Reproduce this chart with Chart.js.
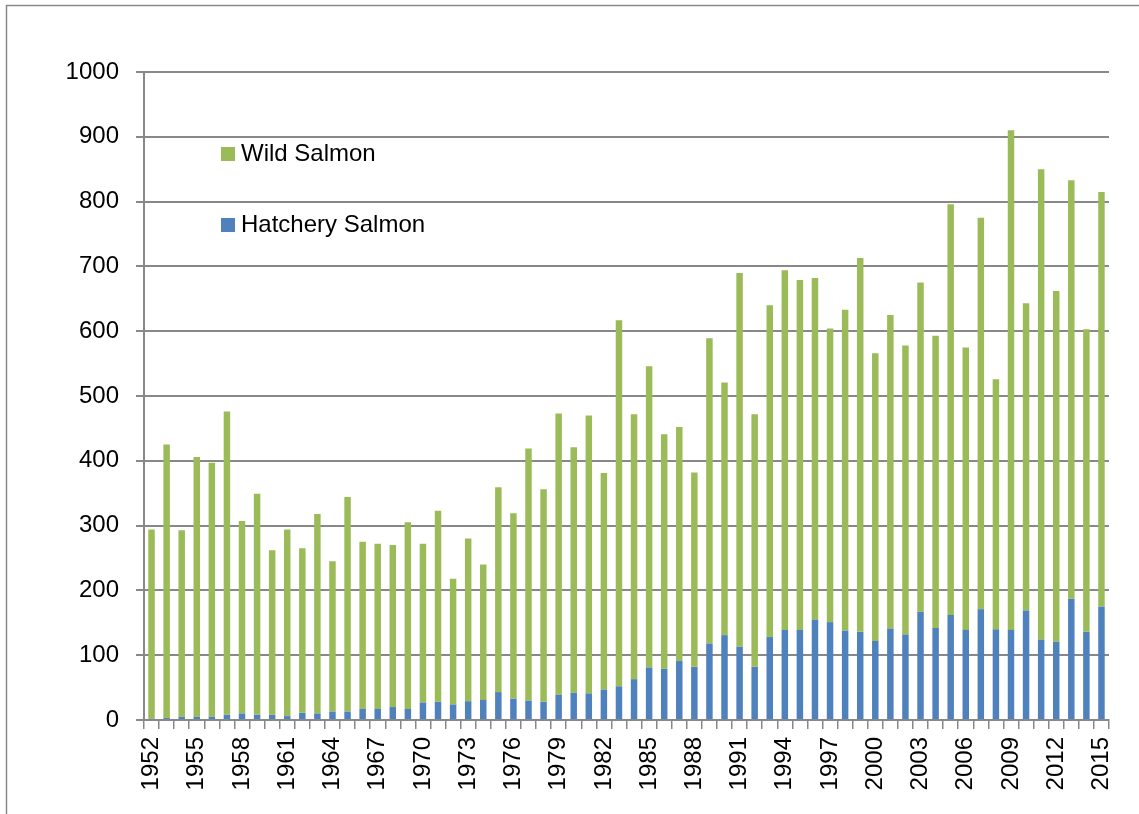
<!DOCTYPE html>
<html>
<head>
<meta charset="utf-8">
<script src="https://cdn.jsdelivr.net/npm/chart.js@4/dist/chart.umd.min.js"></script>
<style>
  html, body { margin: 0; padding: 0; background: #ffffff; }
  #wrap { position: relative; width: 1139px; height: 814px; }
  canvas { display: block; }
</style>
</head>
<body>
<div id="wrap"><canvas id="c" width="1139" height="814"></canvas></div>
<script>
const years = ["1952","1953","1954","1955","1956","1957","1958","1959","1960","1961","1962","1963","1964","1965","1966","1967","1968","1969","1970","1971","1972","1973","1974","1975","1976","1977","1978","1979","1980","1981","1982","1983","1984","1985","1986","1987","1988","1989","1990","1991","1992","1993","1994","1995","1996","1997","1998","1999","2000","2001","2002","2003","2004","2005","2006","2007","2008","2009","2010","2011","2012","2013","2014","2015"];

const hatcherySalmon = [2,3,5,5,5,8,10,8,8,6,11,10,13,13,17,17,20,17,27,28,24,29,31,43,33,30,28,39,42,41,47,52,63,81,79,91,82,118,131,113,82,128,139,139,155,151,138,136,122,141,132,167,142,162,139,171,140,139,169,124,121,187,136,175];

const wildSalmon = [292,422,288,401,392,468,297,341,254,288,254,308,232,331,258,255,250,288,245,295,194,251,209,316,286,389,328,434,379,429,334,565,409,465,362,361,300,471,390,577,390,512,555,540,527,453,495,577,444,484,446,508,451,634,436,604,386,771,474,726,541,646,467,640];

const yTicks = [0,100,200,300,400,500,600,700,800,900,1000];

const FONT = "'Liberation Sans', Arial, sans-serif";
const GRID = "#888888";

const framePlugin = {
  id: 'frame',
  beforeDraw(chart) {
    const ctx = chart.ctx;
    ctx.save();
    ctx.strokeStyle = GRID;
    ctx.lineWidth = 1.5;
    ctx.beginPath();
    ctx.moveTo(6.5, 814);
    ctx.lineTo(6.5, 5.5);
    ctx.lineTo(1139, 5.5);
    ctx.stroke();
    ctx.restore();
  }
};

const legendPlugin = {
  id: 'insideLegend',
  afterDraw(chart) {
    const ctx = chart.ctx;
    const items = [
      { ds: chart.data.datasets[1], y: 161 },
      { ds: chart.data.datasets[0], y: 232 }
    ];
    ctx.save();
    ctx.font = "24px " + FONT;
    ctx.textBaseline = 'alphabetic';
    ctx.textAlign = 'left';
    items.forEach(it => {
      ctx.fillStyle = it.ds.backgroundColor;
      ctx.fillRect(221, it.y - 14, 14, 14);
      ctx.fillStyle = '#000000';
      ctx.fillText(it.ds.label, 241, it.y);
    });
    ctx.restore();
  }
};

new Chart(document.getElementById('c'), {
  type: 'bar',
  data: {
    labels: years,
    datasets: [
      { label: 'Hatchery Salmon', data: hatcherySalmon, backgroundColor: '#4F81BD', barPercentage: 0.43, categoryPercentage: 1.0 },
      { label: 'Wild Salmon', data: wildSalmon, backgroundColor: '#9BBB59', barPercentage: 0.43, categoryPercentage: 1.0 }
    ]
  },
  options: {
    responsive: false,
    animation: false,
    layout: { padding: { left: 0, right: 30, top: 72, bottom: 0 } },
    plugins: { legend: { display: false }, tooltip: { enabled: false } },
    scales: {
      x: {
        stacked: true,
        offset: true,
        afterFit(s) { s.height = 94; },
        border: { display: true, color: GRID, width: 2 },
        grid: { display: true, drawOnChartArea: false, drawTicks: true, tickLength: 9, color: GRID, lineWidth: 1.5, offset: true },
        ticks: {
          autoSkip: false,
          minRotation: 90,
          maxRotation: 90,
          padding: 8,
          color: '#000000',
          font: { family: FONT, size: 24 },
          callback(value, index) { return index % 3 === 0 ? years[index] : ''; }
        }
      },
      y: {
        stacked: true,
        min: 0,
        max: 1000,
        afterFit(s) { s.width = 144; },
        afterBuildTicks(s) { s.ticks = yTicks.map(v => ({ value: v })); },
        border: { display: true, color: GRID, width: 2 },
        grid: { display: true, drawTicks: true, tickLength: 8, color: GRID, lineWidth: 2 },
        ticks: {
          padding: 17,
          color: '#000000',
          font: { family: FONT, size: 24 },
          callback(value) { return String(value); }
        }
      }
    }
  },
  plugins: [framePlugin, legendPlugin]
});
</script>
</body>
</html>
